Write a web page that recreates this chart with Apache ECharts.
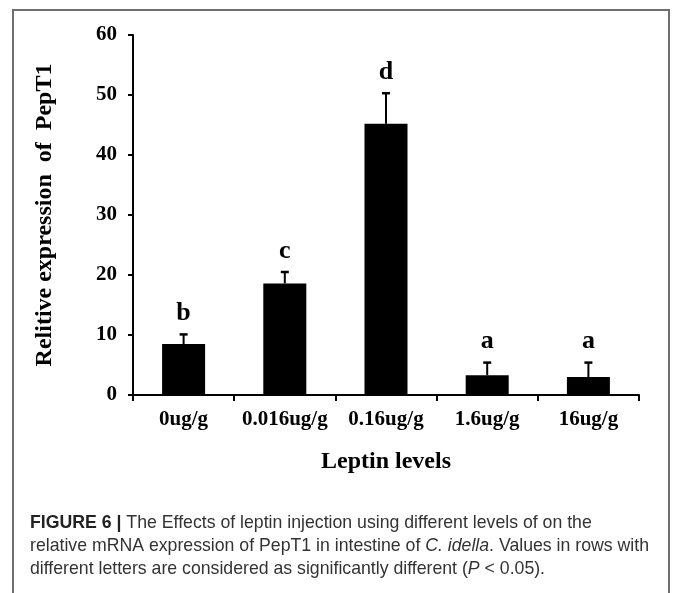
<!DOCTYPE html>
<html>
<head>
<meta charset="utf-8">
<script src="https://cdn.jsdelivr.net/npm/echarts@6/dist/echarts.min.js"></script>
<style>
html,body{margin:0;padding:0;background:#fff;}
#chart{width:673px;height:593px;}
</style>
</head>
<body>
<div id="chart"></div>
<script>
const categories = ['0ug/g', '0.016ug/g', '0.16ug/g', '1.6ug/g', '16ug/g'];
const values = [8.5, 18.6, 45.2, 3.3, 3.0];
const errors = [1.6, 1.9, 5.1, 2.1, 2.4];
const letters = ['b', 'c', 'd', 'a', 'a'];
const yTicks = [0, 10, 20, 30, 40, 50, 60];

const serif = '"Liberation Serif", "Times New Roman", serif';
const sans = '"Liberation Sans", Arial, sans-serif';
const chart = echarts.init(document.getElementById('chart'), null, {renderer: 'canvas'});

const errData = values.map((v, i) => [i, v, v + errors[i], letters[i]]);

chart.setOption({
  animation: false,
  backgroundColor: '#fff',
  grid: {left: 133, right: 34, top: 35, bottom: 198, containLabel: false},
  xAxis: {
    type: 'category',
    data: categories,
    name: 'Leptin levels',
    nameLocation: 'middle',
    nameGap: 55,
    nameTextStyle: {fontFamily: serif, fontWeight: 'bold', fontSize: 24, color: '#000'},
    axisLine: {lineStyle: {color: '#000', width: 2}},
    axisTick: {show: true, alignWithLabel: false, length: 6, inside: false, lineStyle: {color: '#000', width: 2}},
    axisLabel: {fontFamily: serif, fontWeight: 'bold', fontSize: 21, color: '#000', margin: 14, interval: 0},
    splitLine: {show: false}
  },
  yAxis: {
    type: 'value',
    min: yTicks[0],
    max: yTicks[yTicks.length - 1],
    interval: 10,
    name: 'Relitive expression  of  PepT1',
    nameLocation: 'middle',
    nameRotate: 90,
    nameGap: 76,
    nameTextStyle: {fontFamily: serif, fontWeight: 'bold', fontSize: 24, color: '#000'},
    axisLine: {show: true, lineStyle: {color: '#000', width: 2}},
    axisTick: {show: true, length: 5, lineStyle: {color: '#000', width: 2}},
    axisLabel: {fontFamily: serif, fontWeight: 'bold', fontSize: 21, color: '#000', margin: 16},
    splitLine: {show: false}
  },
  series: [
    {
      type: 'bar',
      data: values,
      barWidth: '42.5%',
      itemStyle: {color: '#000'},
      z: 2
    },
    {
      type: 'custom',
      data: errData,
      z: 3,
      renderItem: function (params, api) {
        const x = api.value(0);
        const base = api.coord([x, api.value(1)]);
        const top = api.coord([x, api.value(2)]);
        const cap = 4;
        return {
          type: 'group',
          children: [
            {type: 'line', shape: {x1: base[0], y1: base[1], x2: top[0], y2: top[1]}, style: {stroke: '#000', lineWidth: 2}},
            {type: 'line', shape: {x1: top[0] - cap, y1: top[1], x2: top[0] + cap, y2: top[1]}, style: {stroke: '#000', lineWidth: 2.5}},
            {type: 'text', x: top[0], y: top[1] - 8, style: {text: api.value(3), fontFamily: serif, fontWeight: 'bold', fontSize: 26, fill: '#000', align: 'center', verticalAlign: 'bottom'}}
          ]
        };
      }
    }
  ],
  graphic: [
    {
      type: 'rect',
      shape: {x: 13, y: 10, width: 656, height: 600},
      style: {fill: 'none', stroke: '#6f6f6f', lineWidth: 2},
      z: -1
    },
    {
      type: 'text',
      left: 30,
      top: 512,
      style: {
        text: '{b|FIGURE 6 |} The Effects of leptin injection using different levels of on the\nrelative mRNA expression of PepT1 in intestine of {i|C. idella}. Values in rows with\ndifferent letters are considered as significantly different ({i|P} < 0.05).',
        fontFamily: sans,
        fontSize: 17.7,
        lineHeight: 23,
        fill: '#333',
        rich: {
          b: {fontWeight: 'bold', fontFamily: sans, fontSize: 17.7, fill: '#222', lineHeight: 23},
          i: {fontStyle: 'italic', fontFamily: sans, fontSize: 17.7, fill: '#333', lineHeight: 23}
        }
      }
    }
  ]
});
</script>
</body>
</html>
